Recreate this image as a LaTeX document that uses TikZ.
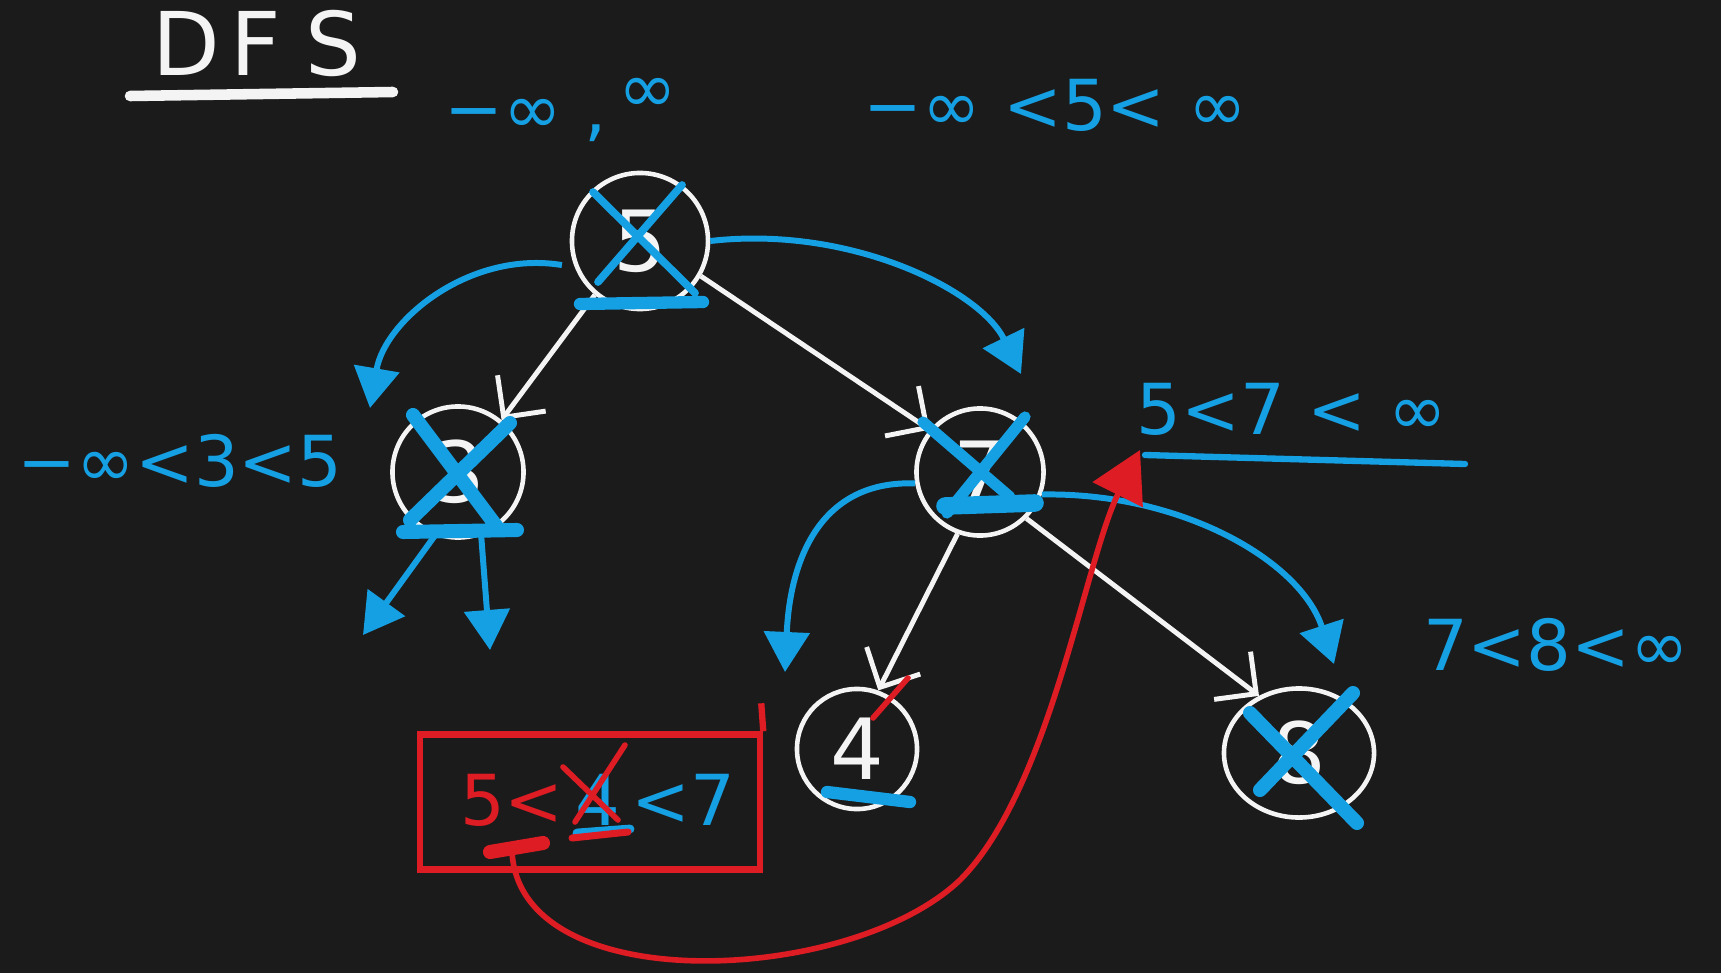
\documentclass[tikz,border=0pt]{standalone}
\usepackage{fontspec}
\setmainfont{DejaVu Sans}
\usepackage{tikz}
\usetikzlibrary{
  arrows.meta,
  positioning,
  shapes.geometric
}
\definecolor{board}{RGB}{27,27,27}
\definecolor{pen}{RGB}{22,160,228}
\definecolor{redpen}{RGB}{222,28,36}
\definecolor{chalk}{RGB}{244,244,244}

\begin{document}
\begin{tikzpicture}[
  x=0.01cm, y=-0.01cm,
  tnode/.style={draw=chalk, circle, line width=1.3pt, minimum size=#1, inner sep=0pt,
                text=chalk, font=\fontsize{24}{28}\selectfont},
  tnode/.default=1.3cm,
  lbl/.style={text=pen, font=\fontsize{20}{24}\selectfont, inner sep=0pt},
  link/.style={draw=chalk, line width=1.4pt, -{Straight Barb[length=3mm,width=6mm]}},
  call/.style={draw=pen, line width=1.7pt, -{Triangle[length=4mm,width=4.5mm]}},
  strike/.style={draw=pen, line width=#1, line cap=round},
  strike/.default=2.5pt,
]
  \fill[board] (0,0) rectangle (1721,973);
  \useasboundingbox (0,0) rectangle (1721,973);

  % title
  \node[text=chalk, font=\fontsize{25}{30}\selectfont, inner sep=0pt] (title) at (257,43)
    {D\hspace{0.1cm}F\hspace{0.25cm}S};
  \draw[chalk, line width=3pt, line cap=round] (130,96) -- (393,92);

  % tree
  \node[tnode=1.36cm] (root) at (640,241) {5};
  \node[tnode=1.31cm] (n3) at (458,472) {3};
  \node[tnode=1.27cm] (n7) at (980,472) {7};
  \node[tnode=1.2cm] (n4) at (857,749) {4};
  \node[tnode, ellipse, minimum width=1.5cm, minimum height=1.29cm] (n8) at (1299,753) {8};

  \draw[link] (root.230) -- (n3.50);
  \draw[link] (root.330) -- (n7.140);
  \draw[link] (n7.250) -- (n4.70);
  \draw[link] (n7.315) -- (n8.125);

  % ranges
  \node[lbl] (rootrng) at (561,110) {−∞ ,\,\raisebox{0.3em}{∞}};
  \node[lbl] (rootrng2) at (1055,105) {−∞ <5< ∞};
  \node[lbl] (n3rng) at (180,461) {−∞<3<5};
  \node[lbl] (n7rng) at (1292,409) {5<7 < ∞};
  \node[lbl] (n8rng) at (1556,645) {7<8<∞};
  \draw[pen, line width=1.8pt, line cap=round] (1145,455) -- (1465,464);

  % recursive calls
  \coordinate (n3tip) at (370,408);
  \coordinate (n7tip) at (1021,374);
  \coordinate (n7ltip) at (785,672);
  \coordinate (n7rtip) at (1334,664);
  \coordinate (n3ltip) at (363,635);
  \coordinate (n3rtip) at (490,650);
  \draw[call] ([xshift=-0.12cm]root.200) .. controls (470,250) and (385,320) .. (n3tip);
  \draw[call] (root.east) .. controls (850,225) and (980,290) .. (n7tip);
  \draw[call] (n7.190) .. controls (820,480) and (790,560) .. (n7ltip);
  \draw[call] (n7.340) .. controls (1180,492) and (1300,560) .. (n7rtip);
  \draw[call] (n3.250) -- (n3ltip);
  \draw[call] (n3.290) -- (n3rtip);

  % visited marks
  \draw[strike=2.2pt] (593,192) -- (695,293) (682,185) -- (598,282);
  \draw[strike=3.5pt] (580,304) -- (703,302);
  \draw[strike=4pt] (413,415) -- (497,527) (510,423) -- (410,520) (403,532) -- (517,530);
  \draw[strike=3.2pt] (923,422) -- (1010,497) (1025,417) -- (947,513);
  \draw[strike=5pt] (945,506) -- (1035,503);
  \draw[strike=4pt] (1250,713) -- (1357,823) (1353,693) -- (1260,790);
  \draw[strike=3.5pt] (827,792) -- (910,802);
  \draw[strike=1.6pt, draw=redpen] (908,678) -- (873,718);

  % failed check
  \node[draw=redpen, line width=1.8pt, minimum width=3.4cm, minimum height=1.35cm] (box) at (590,802) {};
  \draw[redpen, line width=1.8pt] (box.north east) -- ++(-2,-28);
  \node[lbl, text=redpen] (lo) at (512,800) {5<};
  \node[lbl, right=0.1cm of lo] (mid) {4};
  \node[lbl, right=0.1cm of mid] (hi) {<7};
  \draw[strike=1.6pt, draw=redpen] (563,767) -- (618,820) (625,745) -- (575,822);
  \draw[strike=2.5pt] (577,833) -- (630,829);
  \draw[strike=2pt, draw=redpen] (572,838) -- (628,832);
  \draw[strike=4pt, draw=redpen] (490,852) -- (543,843);

  \coordinate (hit) at (1140,450);
  \draw[redpen, line width=1.6pt, -{Triangle[length=5mm,width=5.5mm]}]
    ([yshift=-0.25cm]lo.south) .. controls (520,1000) and (850,985) .. (960,880)
    .. controls (1050,790) and (1085,560) .. (hit);
\end{tikzpicture}
\end{document}
